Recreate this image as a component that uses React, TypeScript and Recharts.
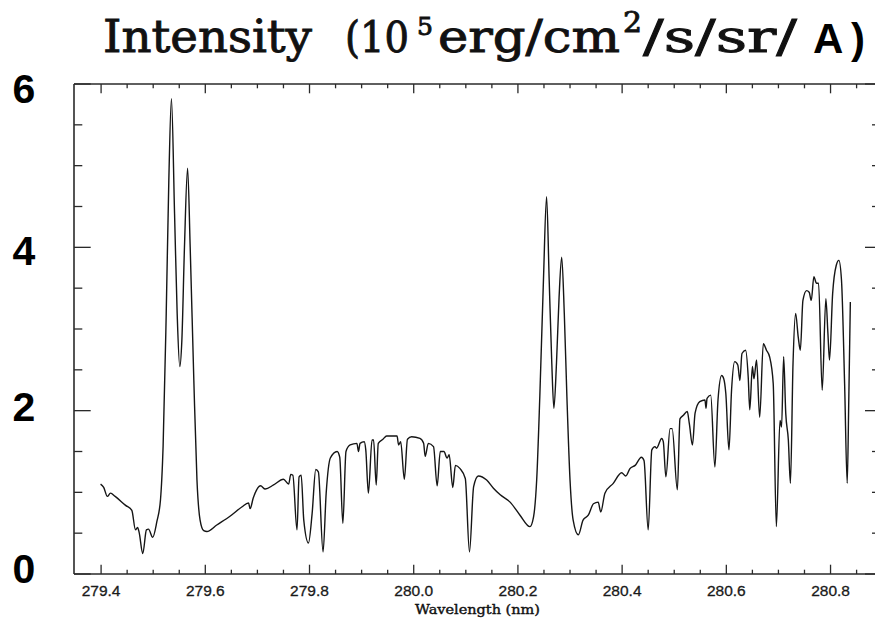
import React from "react";
import { LineChart, Line, XAxis, YAxis } from "recharts";

// Wavelength (nm) of each traced point of the spectrum
const waveNm = [
  279.399, 279.405, 279.412, 279.418, 279.427, 279.447, 279.459, 279.466, 279.47, 279.473,
  279.48, 279.487, 279.491, 279.499, 279.507, 279.514, 279.519, 279.525, 279.53, 279.535,
  279.541, 279.546, 279.551, 279.555, 279.56, 279.566, 279.571, 279.578, 279.584, 279.59,
  279.597, 279.603, 279.622, 279.648, 279.67, 279.683, 279.686, 279.692, 279.706, 279.715,
  279.731, 279.75, 279.76, 279.764, 279.768, 279.776, 279.78, 279.784, 279.789, 279.798,
  279.805, 279.812, 279.817, 279.826, 279.832, 279.84, 279.853, 279.858, 279.864, 279.87,
  279.878, 279.891, 279.894, 279.897, 279.905, 279.908, 279.913, 279.92, 279.923, 279.928,
  279.932, 279.941, 279.948, 279.968, 279.971, 279.975, 279.982, 279.988, 279.996, 280.012,
  280.019, 280.022, 280.028, 280.038, 280.045, 280.051, 280.058, 280.064, 280.068, 280.075,
  280.08, 280.089, 280.099, 280.107, 280.115, 280.124, 280.14, 280.153, 280.166, 280.185,
  280.204, 280.223, 280.23, 280.236, 280.242, 280.249, 280.255, 280.26, 280.265, 280.269,
  280.274, 280.279, 280.284, 280.289, 280.294, 280.3, 280.306, 280.316, 280.325, 280.335,
  280.345, 280.354, 280.359, 280.367, 280.383, 280.399, 280.407, 280.415, 280.425, 280.437,
  280.442, 280.45, 280.457, 280.463, 280.466, 280.476, 280.479, 280.484, 280.492, 280.496,
  280.506, 280.511, 280.517, 280.525, 280.529, 280.535, 280.54, 280.549, 280.559, 280.561,
  280.563, 280.57, 280.578, 280.584, 280.591, 280.595, 280.599, 280.605, 280.61, 280.616,
  280.622, 280.626, 280.63, 280.637, 280.642, 280.645, 280.65, 280.653, 280.658, 280.664,
  280.671, 280.677, 280.683, 280.69, 280.696, 280.703, 280.706, 280.71, 280.714, 280.719,
  280.723, 280.728, 280.733, 280.738, 280.742, 280.747, 280.754, 280.759, 280.763, 280.768,
  280.773, 280.777, 280.784, 280.791, 280.795, 280.798, 280.804, 280.811, 280.816, 280.821,
  280.827, 280.832, 280.835, 280.838,
];

// Intensity (10^5 erg/cm^2/s/sr/A) at each wavelength above
const intensity = [
  1.1, 1.06, 0.95, 0.99, 0.95, 0.84, 0.78, 0.54, 0.57, 0.51,
  0.25, 0.54, 0.55, 0.45, 0.64, 0.91, 1.56, 3.19, 4.82, 5.82,
  4.41, 3.19, 2.54, 2.86, 4.0, 4.97, 4.0, 2.37, 1.15, 0.66,
  0.53, 0.52, 0.6, 0.71, 0.82, 0.87, 0.8, 0.93, 1.08, 1.04,
  1.09, 1.16, 1.1, 1.22, 1.21, 0.54, 1.19, 1.21, 0.66, 0.38,
  0.74, 1.28, 1.25, 0.27, 0.99, 1.42, 1.5, 1.43, 0.62, 1.5,
  1.58, 1.6, 1.5, 1.6, 1.62, 1.52, 0.99, 1.64, 1.64, 1.09,
  1.6, 1.65, 1.69, 1.69, 1.58, 1.62, 1.16, 1.65, 1.68, 1.66,
  1.6, 1.44, 1.6, 1.56, 1.08, 1.5, 1.5, 1.42, 1.46, 1.06,
  1.33, 1.29, 1.17, 0.27, 1.07, 1.2, 1.15, 1.05, 0.97, 0.88,
  0.72, 0.58, 0.7, 1.15, 2.17, 3.6, 4.62, 3.6, 2.58, 2.03,
  2.58, 3.39, 3.88, 3.19, 2.17, 1.15, 0.66, 0.48, 0.66, 0.72,
  0.86, 0.88, 0.76, 0.99, 1.11, 1.24, 1.2, 1.29, 1.33, 1.43,
  1.39, 0.54, 1.52, 1.56, 1.54, 1.66, 1.62, 1.19, 1.78, 1.78,
  1.03, 1.9, 1.94, 1.99, 1.84, 1.58, 1.97, 2.11, 2.13, 2.03,
  2.15, 2.19, 1.31, 2.13, 2.43, 2.39, 2.21, 1.52, 2.25, 2.6,
  2.56, 2.37, 2.7, 2.74, 2.41, 2.01, 2.54, 2.39, 2.62, 1.92,
  2.82, 2.74, 2.66, 2.33, 0.58, 1.88, 1.8, 2.66, 1.97, 1.64,
  1.11, 2.58, 3.19, 2.9, 2.74, 3.35, 3.47, 3.45, 3.35, 3.64,
  3.56, 3.56, 2.25, 3.37, 2.94, 2.62, 3.43, 3.78, 3.84, 3.6,
  2.33, 1.11, 2.13, 3.33,
];

// Axis ticks
const xTicks = [
  279.4, 279.45, 279.5, 279.55, 279.6, 279.65, 279.7, 279.75, 279.8, 279.85,
  279.9, 279.95, 280.0, 280.05, 280.1, 280.15, 280.2, 280.25, 280.3, 280.35,
  280.4, 280.45, 280.5, 280.55, 280.6, 280.65, 280.7, 280.75, 280.8, 280.85,
];
const xMajorLabels = ["279.4", "279.6", "279.8", "280.0", "280.2", "280.4", "280.6", "280.8"];
const yTicks = [0, 0.5, 1, 1.5, 2, 2.5, 3, 3.5, 4, 4.5, 5, 5.5, 6];
const yMajorLabels = ["0", "2", "4", "6"];
const xDomain: [number, number] = [279.348, 280.893];
const yDomain: [number, number] = [0, 6];

const data = waveNm.map((w, i) => ({ w, v: intensity[i] }));

const FRAME = "#2a2a2a";
const FRAME_W = 1.6;
const yLabelDy: Record<string, number> = { "0": 9, "2": 10.7, "4": 17.5, "6": 19 };

const xLabelOf = (v: number) => {
  const s = v.toFixed(1);
  return xMajorLabels.includes(s) && Math.abs(v * 10 - Math.round(v * 10)) < 1e-6 ? s : null;
};
const yLabelOf = (v: number) => {
  const s = String(v);
  return yMajorLabels.includes(s) ? s : null;
};

const BottomTick = (props: any) => {
  const { x, y, payload } = props;
  const label = xLabelOf(payload.value);
  return (
    <g>
      <line x1={x} y1={y} x2={x} y2={y - (label ? 9.3 : 4.3)} stroke={FRAME} strokeWidth={1.3} />
      {label && (
        <text
          x={x}
          y={y + 22}
          textAnchor="middle"
          fontFamily="'Liberation Sans', Arial, sans-serif"
          fontSize={15.5}
          fill="#1a1a1a"
          stroke="#1a1a1a"
          strokeWidth={0.3}
        >
          {label}
        </text>
      )}
    </g>
  );
};

const TopTick = (props: any) => {
  const { x, y, payload } = props;
  const label = xLabelOf(payload.value);
  return <line x1={x} y1={y} x2={x} y2={y + (label ? 9.3 : 4.3)} stroke={FRAME} strokeWidth={1.3} />;
};

const LeftTick = (props: any) => {
  const { x, y, payload } = props;
  const label = yLabelOf(payload.value);
  return (
    <g>
      <line x1={x} y1={y} x2={x + (label ? 16.7 : 8.3)} y2={y} stroke={FRAME} strokeWidth={1.3} />
      {label && (
        <text
          x={x - 50}
          y={y + yLabelDy[label]}
          textAnchor="middle"
          fontFamily="'Liberation Sans', Arial, sans-serif"
          fontWeight="bold"
          fontSize={41}
          fill="#000"
        >
          {label}
        </text>
      )}
    </g>
  );
};

const RightTick = (props: any) => {
  const { x, y, payload } = props;
  const label = yLabelOf(payload.value);
  return <line x1={x} y1={y} x2={x - (label ? 14 : 7)} y2={y} stroke={FRAME} strokeWidth={1.3} />;
};

const serif = "'DejaVu Serif', 'Liberation Serif', serif";

export default function App() {
  return (
    <div style={{ position: "relative", width: 875, height: 613, background: "#fff" }}>
      <LineChart width={875} height={613} data={data} margin={{ top: 75, right: 3, bottom: 7, left: 0 }}>
        <XAxis
          dataKey="w"
          type="number"
          domain={xDomain}
          allowDataOverflow
          ticks={xTicks}
          interval={0}
          tickSize={0}
          tickMargin={0}
          tickLine={false}
          tick={BottomTick}
          height={40}
          axisLine={{ stroke: FRAME, strokeWidth: FRAME_W }}
        />
        <XAxis
          xAxisId="top"
          dataKey="w"
          orientation="top"
          type="number"
          domain={xDomain}
          allowDataOverflow
          ticks={xTicks}
          interval={0}
          tickSize={0}
          tickMargin={0}
          tickLine={false}
          tick={TopTick}
          height={1}
          axisLine={{ stroke: FRAME, strokeWidth: FRAME_W }}
        />
        <YAxis
          type="number"
          domain={yDomain}
          allowDataOverflow
          ticks={yTicks}
          interval={0}
          tickSize={0}
          tickMargin={0}
          tickLine={false}
          tick={LeftTick}
          width={66}
          axisLine={{ stroke: FRAME, strokeWidth: FRAME_W }}
        />
        <YAxis
          yAxisId="right"
          orientation="right"
          type="number"
          domain={yDomain}
          allowDataOverflow
          ticks={yTicks}
          interval={0}
          tickSize={0}
          tickMargin={0}
          tickLine={false}
          tick={RightTick}
          width={1}
          axisLine={{ stroke: FRAME, strokeWidth: FRAME_W }}
        />
        <Line
          dataKey="v"
          type="monotone"
          stroke="#151515"
          strokeWidth={1.4}
          dot={false}
          isAnimationActive={false}
        />
        <Line
          dataKey="v"
          xAxisId="top"
          yAxisId="right"
          stroke="none"
          dot={false}
          activeDot={false}
          legendType="none"
          isAnimationActive={false}
        />
      </LineChart>
      <svg
        width={875}
        height={613}
        style={{ position: "absolute", left: 0, top: 0, pointerEvents: "none" }}
      >
        <text fill="#111" stroke="#111" strokeWidth={0.9} fontFamily={serif} fontSize={44}>
          <tspan x={95} y={43.7} textLength={209} lengthAdjust="spacingAndGlyphs">
            Intensity
          </tspan>
          <tspan x={337} y={43.7} fontSize={42} textLength={64} lengthAdjust="spacingAndGlyphs">
            (10
          </tspan>
          <tspan x={409} y={27} fontSize={24} textLength={16} lengthAdjust="spacingAndGlyphs">
            5
          </tspan>
          <tspan x={430} y={43.7} textLength={182} lengthAdjust="spacingAndGlyphs">
            erg/cm
          </tspan>
          <tspan x={615} y={23.7} fontSize={27} textLength={19} lengthAdjust="spacingAndGlyphs">
            2
          </tspan>
          <tspan x={635} y={43.7} textLength={154} lengthAdjust="spacingAndGlyphs">
            /s/sr/
          </tspan>
        </text>
        <g fill="#000" fontFamily="'Liberation Sans', Arial, sans-serif" fontWeight="bold" fontSize={42}>
          <text x={805} y={45}>A</text>
          <text x={843} y={45}>)</text>
        </g>
        <text
          x={407}
          y={605.5}
          fontFamily={serif}
          fontSize={13}
          fill="#111"
          stroke="#111"
          strokeWidth={0.4}
          textLength={125}
          lengthAdjust="spacingAndGlyphs"
        >
          Wavelength (nm)
        </text>
      </svg>
    </div>
  );
}
